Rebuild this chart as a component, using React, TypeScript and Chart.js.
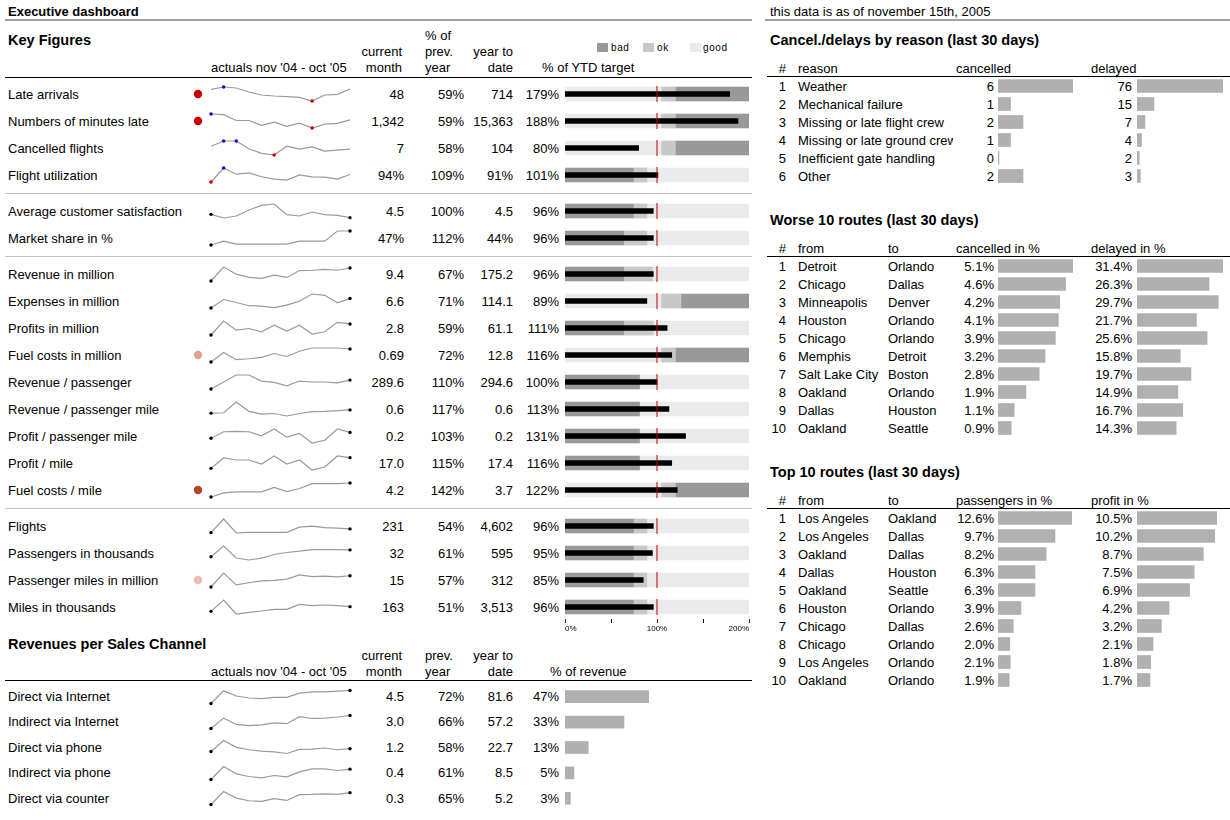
import React, { useEffect, useRef } from "react";
import { Chart, registerables } from "chart.js";
Chart.register(...registerables);

const FONT = '"Liberation Sans", Arial, Helvetica, sans-serif';

// ---------- DATA ----------
const months = ["Nov", "Dec", "Jan", "Feb", "Mar", "Apr", "May", "Jun", "Jul", "Aug", "Sep", "Oct"];

const kfLabels = [
  "Late arrivals", "Numbers of minutes late", "Cancelled flights", "Flight utilization",
  "Average customer satisfaction", "Market share in %",
  "Revenue in million", "Expenses in million", "Profits in million", "Fuel costs in million",
  "Revenue / passenger", "Revenue / passenger mile", "Profit / passenger mile", "Profit / mile", "Fuel costs / mile",
  "Flights", "Passengers in thousands", "Passenger miles in million", "Miles in thousands",
];
const kfGroup = [0, 0, 0, 0, 1, 1, 2, 2, 2, 2, 2, 2, 2, 2, 2, 3, 3, 3, 3];
const kfCurrent = ["48", "1,342", "7", "94%", "4.5", "47%", "9.4", "6.6", "2.8", "0.69", "289.6", "0.6", "0.2", "17.0", "4.2", "231", "32", "15", "163"];
const kfPrevYear = ["59%", "59%", "58%", "109%", "100%", "112%", "67%", "71%", "59%", "72%", "110%", "117%", "103%", "115%", "142%", "54%", "61%", "57%", "51%"];
const kfYtd = ["714", "15,363", "104", "91%", "4.5", "44%", "175.2", "114.1", "61.1", "12.8", "294.6", "0.6", "0.2", "17.4", "3.7", "4,602", "595", "312", "3,513"];
const kfYtdTargetPct = [179, 188, 80, 101, 96, 96, 96, 89, 111, 116, 100, 113, 131, 116, 122, 96, 95, 85, 96];
const kfTarget = 100;
const kfTrend = [
  [52, 59, 56, 44, 35, 32, 30, 28, 17, 35, 37, 53],
  [60, 58, 40, 40, 25, 35, 22, 32, 17, 29, 31, 42],
  [42, 58, 58, 34, 20, 15, 42, 33, 40, 27, 30, 33],
  [14, 57, 38, 42, 30, 23, 20, 36, 30, 29, 23, 37],
  [27, 16, 22, 40, 54, 58, 26, 22, 34, 26, 24, 17],
  [12, 24, 15, 15, 15, 15, 15, 24, 24, 24, 56, 56],
  [7, 50, 28, 18, 15, 25, 18, 39, 40, 43, 40, 47],
  [6, 32, 23, 13, 12, 7, 15, 27, 49, 45, 22, 35],
  [5, 48, 20, 25, 15, 35, 17, 35, 8, 15, 44, 39],
  [3, 32, 10, 13, 17, 29, 20, 36, 46, 46, 46, 43],
  [3, 25, 47, 47, 28, 24, 13, 28, 25, 25, 22, 31],
  [12, 13, 43, 17, 9, 11, 4, 11, 16, 17, 19, 21],
  [16, 35, 36, 35, 23, 43, 19, 30, 2, 10, 43, 33],
  [10, 41, 35, 35, 23, 47, 23, 35, 5, 14, 47, 42],
  [3, 15, 18, 18, 18, 31, 19, 28, 42, 42, 42, 44],
  [2, 42, 1, 3, 3, 3, 3, 18, 21, 17, 15, 13],
  [15, 48, 11, 5, 11, 22, 28, 32, 37, 37, 37, 36],
  [6, 52, 13, 20, 26, 28, 32, 46, 40, 42, 39, 43],
  [11, 45, 3, 8, 12, 17, 17, 32, 28, 30, 28, 25],
];
const kfMinMaxMarks = [true, true, true, true, false, false, false, false, false, false, false, false, false, false, false, false, false, false, false];
const kfStatus: (string | null)[] = [
  "#cc0000", "#cc0000", null, null, null, null, null, null, null, "#e4a090",
  null, null, null, null, "#b5422c", null, null, "#eebcb3", null,
];
const kfBandBad: [number, number][] = [
  [120, 200], [120, 200], [120, 200], [0, 75], [0, 75], [0, 64.5], [0, 64.5], [126, 200], [0, 64.5], [120, 200],
  [0, 81], [0, 81], [0, 81], [0, 81], [120, 200], [0, 75], [0, 75], [0, 75], [0, 75],
];
const kfBandOk: ([number, number] | null)[] = [
  [105, 120], [105, 120], [105, 120], [75, 89], [75, 89], [64.5, 89], [64.5, 95], [105, 126], [64.5, 96], [105, 120],
  null, null, null, null, [105, 120], [75, 89], [75, 89], [75, 89], [75, 89],
];
const bulletAxisMax = 200;

const chLabels = ["Direct via Internet", "Indirect via Internet", "Direct via phone", "Indirect via phone", "Direct via counter"];
const chCurrent = ["4.5", "3.0", "1.2", "0.4", "0.3"];
const chPrevYear = ["72%", "66%", "58%", "61%", "65%"];
const chYtd = ["81.6", "57.2", "22.7", "8.5", "5.2"];
const chShare = [47, 33, 13, 5, 3];
const chTrend = [
  [4, 43, 27, 21, 19, 23, 23, 36, 40, 40, 42, 44],
  [3, 31, 14, 11, 13, 18, 16, 35, 30, 31, 34, 38],
  [10, 42, 22, 15, 11, 9, 4, 16, 17, 20, 15, 18],
  [3, 42, 20, 12, 8, 15, 11, 26, 35, 35, 30, 34],
  [2, 47, 24, 15, 13, 22, 16, 36, 37, 39, 37, 43],
];

const reasons = ["Weather", "Mechanical failure", "Missing or late flight crew", "Missing or late ground crew", "Inefficient gate handling", "Other"];
const reasonCancelled = [6, 1, 2, 1, 0, 2];
const reasonDelayed = [76, 15, 7, 4, 2, 3];

const worseFrom = ["Detroit", "Chicago", "Minneapolis", "Houston", "Chicago", "Memphis", "Salt Lake City", "Oakland", "Dallas", "Oakland"];
const worseTo = ["Orlando", "Dallas", "Denver", "Orlando", "Orlando", "Detroit", "Boston", "Orlando", "Houston", "Seattle"];
const worseCancelled = [5.1, 4.6, 4.2, 4.1, 3.9, 3.2, 2.8, 1.9, 1.1, 0.9];
const worseDelayed = [31.4, 26.3, 29.7, 21.7, 25.6, 15.8, 19.7, 14.9, 16.7, 14.3];

const topFrom = ["Los Angeles", "Los Angeles", "Oakland", "Dallas", "Oakland", "Houston", "Chicago", "Chicago", "Los Angeles", "Oakland"];
const topTo = ["Oakland", "Dallas", "Dallas", "Houston", "Seattle", "Orlando", "Dallas", "Orlando", "Orlando", "Orlando"];
const topPassengers = [12.6, 9.7, 8.2, 6.3, 6.3, 3.9, 2.6, 2.0, 2.1, 1.9];
const topProfit = [10.5, 10.2, 8.7, 7.5, 6.9, 4.2, 3.2, 2.1, 1.8, 1.7];

// ---------- STYLE / LAYOUT ----------
const C_BAD = "#999999";
const C_OK = "#c8c8c8";
const C_GOOD = "#ebebeb";
const C_TARGET = "#c00000";
const C_BAR = "#b0b0b0";
const GROUP_Y = [94, 211, 274, 526];
const ROW_H = 27;

const rowY: number[] = [];
{
  let prev = -1;
  let k = 0;
  kfGroup.forEach((g) => {
    if (g !== prev) { k = 0; prev = g; }
    rowY.push(GROUP_Y[g] + ROW_H * k);
    k++;
  });
}

function baseOptions(extra: any) {
  return {
    animation: false,
    responsive: false,
    maintainAspectRatio: false,
    events: [],
    plugins: { legend: { display: false }, tooltip: { enabled: false } },
    ...extra,
  };
}

function ChartCanvas({ left, top, width, height, config }: any) {
  const ref = useRef<HTMLCanvasElement | null>(null);
  useEffect(() => {
    const chart = new Chart(ref.current as HTMLCanvasElement, config);
    return () => chart.destroy();
  }, []);
  return (
    <canvas
      ref={ref}
      width={width}
      height={height}
      style={{ position: "absolute", left, top, width, height, display: "block" }}
    />
  );
}

function T({ x, y, a = "left", s = 13, b = false, w, children, ls }: any) {
  const lh = 16;
  const style: any = {
    position: "absolute",
    top: y - lh / 2 + 0.5,
    lineHeight: lh + "px",
    fontSize: s,
    fontWeight: b ? "bold" : "normal",
    whiteSpace: "nowrap",
    color: "#000",
  };
  if (ls) style.letterSpacing = ls;
  if (a === "right") style.right = 1230 - x;
  else style.left = x;
  if (w) { style.width = w; style.overflow = "hidden"; }
  return <div style={style}>{children}</div>;
}

function HLine({ x1, x2, y, t = 1, c = "#000" }: any) {
  return <div style={{ position: "absolute", left: x1, top: y - t / 2, width: x2 - x1, height: t, background: c }} />;
}

function Box({ x, y, w, h, c }: any) {
  return <div style={{ position: "absolute", left: x, top: y, width: w, height: h, background: c }} />;
}

function sparkConfig(values: number[], minmax: boolean, areaH: number, canvasH: number) {
  const mx = Math.max(...values);
  const mn = Math.min(...values);
  const colors = values.map((v, i) => {
    if (minmax) return v === mx ? "#1010c8" : v === mn ? "#c80000" : "rgba(0,0,0,0)";
    return i === 0 || i === values.length - 1 ? "#000" : "rgba(0,0,0,0)";
  });
  const radii = values.map((v, i) => {
    if (minmax) return v === mx || v === mn ? 1.8 : 0;
    return i === 0 || i === values.length - 1 ? 1.7 : 0;
  });
  const pad = (canvasH - areaH) / 2;
  return {
    type: "line",
    data: {
      labels: months,
      datasets: [{
        data: values,
        borderColor: "#9a9a9a",
        borderWidth: 1.2,
        tension: 0,
        pointRadius: radii,
        pointBackgroundColor: colors,
        pointBorderWidth: 0,
        clip: false,
      }],
    },
    options: baseOptions({
      layout: { padding: { left: 6, right: 6, top: pad, bottom: pad } },
      scales: { x: { display: false }, y: { display: false, min: mn, max: mx } },
    }),
  };
}

function bulletConfig(i: number) {
  const ds: any[] = [
    { data: [[kfTarget - 0.55, kfTarget + 0.55]], backgroundColor: C_TARGET, barThickness: 16, grouped: false, inflateAmount: 0 },
    { data: [[0, kfYtdTargetPct[i]]], backgroundColor: "#000", barThickness: 5, grouped: false },
  ];
  if (kfBandOk[i]) ds.push({ data: [kfBandOk[i]], backgroundColor: C_OK, barThickness: 14, grouped: false });
  ds.push({ data: [kfBandBad[i]], backgroundColor: C_BAD, barThickness: 14, grouped: false });
  ds.push({ data: [[0, bulletAxisMax]], backgroundColor: C_GOOD, barThickness: 14, grouped: false });
  return {
    type: "bar",
    data: { labels: [kfLabels[i]], datasets: ds },
    options: baseOptions({
      indexAxis: "y",
      scales: { x: { display: false, min: 0, max: bulletAxisMax }, y: { display: false } },
    }),
  };
}

function axisConfig() {
  return {
    type: "scatter",
    data: { datasets: [{ data: [] }] },
    options: baseOptions({
      layout: { padding: { left: 4, right: 4, top: 0, bottom: 0 } },
      scales: {
        x: {
          type: "linear",
          position: "bottom",
          min: 0,
          max: bulletAxisMax,
          border: { display: false },
          grid: {
            drawOnChartArea: false,
            drawTicks: true,
            tickLength: 4,
            lineWidth: 1,
            color: (ctx: any) => (ctx.tick && ctx.tick.value % 100 === 0 ? "#a00000" : "#000"),
          },
          ticks: {
            stepSize: 50,
            autoSkip: false,
            align: "inner",
            maxRotation: 0,
            padding: 1,
            color: "#000",
            font: { size: 8, family: FONT },
            callback: (v: number) => (v % 100 === 0 ? v + "%" : ""),
          },
        },
        y: { display: false },
      },
    }),
  };
}

function dotConfig(color: string) {
  return {
    type: "scatter",
    data: { datasets: [{ data: [{ x: 0, y: 0 }], pointRadius: 4.2, pointBackgroundColor: color, pointBorderWidth: 0, clip: false }] },
    options: baseOptions({
      scales: { x: { display: false, min: -1, max: 1 }, y: { display: false, min: -1, max: 1 } },
    }),
  };
}

function hbarConfig(labels: string[], values: number[], thickness: number) {
  return {
    type: "bar",
    data: {
      labels,
      datasets: [{ data: values, backgroundColor: C_BAR, barThickness: thickness, minBarLength: 1 }],
    },
    options: baseOptions({
      indexAxis: "y",
      scales: { x: { display: false, min: 0, max: Math.max(...values) }, y: { display: false } },
    }),
  };
}

function RightTable({ title, titleY, headY, lineY, firstY, cols, rowsFrom, rowsTo, valA, valB, fmt, widthA, widthB, reason }: any) {
  const n = valA.length;
  const ys = Array.from({ length: n }, (_, i) => firstY + 18 * i);
  return (
    <>
      <T x={770} y={titleY} s={14.5} b>{title}</T>
      <T x={786} y={headY} a="right">#</T>
      <T x={798} y={headY}>{cols[0]}</T>
      {cols.length === 4 ? <T x={888} y={headY}>{cols[1]}</T> : null}
      <T x={956} y={headY}>{cols[cols.length - 2]}</T>
      <T x={1091} y={headY}>{cols[cols.length - 1]}</T>
      <HLine x1={767} x2={1230} y={lineY} />
      {ys.map((y, i) => (
        <React.Fragment key={i}>
          <T x={786} y={y} a="right">{i + 1}</T>
          {reason ? <T x={798} y={y} w={155}>{rowsFrom[i]}</T> : <T x={798} y={y}>{rowsFrom[i]}</T>}
          {rowsTo ? <T x={888} y={y}>{rowsTo[i]}</T> : null}
          <T x={994} y={y} a="right">{fmt(valA[i])}</T>
          <T x={1132} y={y} a="right">{fmt(valB[i])}</T>
        </React.Fragment>
      ))}
      <ChartCanvas left={998} top={firstY - 9.5} width={widthA} height={18 * n} config={hbarConfig(rowsFrom, valA, 13)} />
      <ChartCanvas left={1137} top={firstY - 9.5} width={widthB} height={18 * n} config={hbarConfig(rowsFrom, valB, 13)} />
    </>
  );
}

export default function App() {
  const chY = chLabels.map((_, i) => 696.5 + 25.4 * i);
  return (
    <div style={{ position: "absolute", left: 0, top: 0, width: 1230, height: 820, background: "#fff", fontFamily: FONT, color: "#000", overflow: "hidden" }}>
      <T x={8} y={11.5} b>Executive dashboard</T>
      <T x={770} y={11.5}>this data is as of november 15th, 2005</T>
      <HLine x1={5} x2={752} y={20} t={2} c="#a0a0a0" />
      <HLine x1={765} x2={1230} y={20} t={2} c="#a0a0a0" />

      {/* Key figures header */}
      <T x={8} y={39} s={14.5} b>Key Figures</T>
      <T x={211} y={67.5}>actuals nov '04 - oct '05</T>
      <T x={402} y={51.5} a="right">current</T>
      <T x={402} y={67.5} a="right">month</T>
      <T x={425} y={35.5}>% of</T>
      <T x={425} y={51.5}>prev.</T>
      <T x={425} y={67.5}>year</T>
      <T x={513} y={51.5} a="right">year to</T>
      <T x={513} y={67.5} a="right">date</T>
      <T x={542} y={67.5}>% of YTD target</T>
      <Box x={597} y={42.5} w={11} h={9} c={C_BAD} />
      <T x={611} y={47} s={10} ls="0.6px">bad</T>
      <Box x={643} y={42.5} w={11} h={9} c={C_OK} />
      <T x={657} y={47} s={10} ls="0.6px">ok</T>
      <Box x={690} y={42.5} w={11} h={9} c={C_GOOD} />
      <T x={703} y={47} s={10} ls="0.6px">good</T>
      <HLine x1={5} x2={752} y={77} />
      <HLine x1={5} x2={752} y={193} c="#c4c4c4" />
      <HLine x1={5} x2={752} y={256.5} c="#c4c4c4" />
      <HLine x1={5} x2={752} y={508.5} c="#c4c4c4" />

      {kfLabels.map((lab, i) => {
        const y = rowY[i];
        return (
          <React.Fragment key={lab}>
            <T x={8} y={y}>{lab}</T>
            {kfStatus[i] ? <ChartCanvas left={192} top={y - 6} width={12} height={12} config={dotConfig(kfStatus[i] as string)} /> : null}
            <ChartCanvas left={205} top={y - 11} width={151} height={22} config={sparkConfig(kfTrend[i], kfMinMaxMarks[i], 14, 22)} />
            <T x={404} y={y} a="right">{kfCurrent[i]}</T>
            <T x={464} y={y} a="right">{kfPrevYear[i]}</T>
            <T x={513} y={y} a="right">{kfYtd[i]}</T>
            <T x={559} y={y} a="right">{kfYtdTargetPct[i] + "%"}</T>
            <ChartCanvas left={565} top={y - 9} width={184} height={18} config={bulletConfig(i)} />
          </React.Fragment>
        );
      })}
      <ChartCanvas left={561} top={606} width={192} height={26} config={axisConfig()} />

      {/* Revenues per sales channel */}
      <T x={8} y={643} s={14.5} b>Revenues per Sales Channel</T>
      <T x={211} y={671}>actuals nov '04 - oct '05</T>
      <T x={402} y={655.5} a="right">current</T>
      <T x={402} y={671} a="right">month</T>
      <T x={425} y={655.5}>prev.</T>
      <T x={425} y={671}>year</T>
      <T x={513} y={655.5} a="right">year to</T>
      <T x={513} y={671} a="right">date</T>
      <T x={550} y={671}>% of revenue</T>
      <HLine x1={5} x2={752} y={680} />
      {chLabels.map((lab, i) => {
        const y = chY[i];
        return (
          <React.Fragment key={lab}>
            <T x={8} y={y}>{lab}</T>
            <ChartCanvas left={205} top={y - 11} width={151} height={22} config={sparkConfig(chTrend[i], false, 13, 22)} />
            <T x={404} y={y} a="right">{chCurrent[i]}</T>
            <T x={464} y={y} a="right">{chPrevYear[i]}</T>
            <T x={513} y={y} a="right">{chYtd[i]}</T>
            <T x={559} y={y} a="right">{chShare[i] + "%"}</T>
          </React.Fragment>
        );
      })}
      <ChartCanvas left={565} top={696.5 - 12.7} width={84} height={127} config={hbarConfig(chLabels, chShare, 12)} />

      {/* Right side tables */}
      <RightTable
        title="Cancel./delays by reason (last 30 days)" titleY={39} headY={68} lineY={76.5} firstY={86.5}
        cols={["reason", "cancelled", "delayed"]} rowsFrom={reasons} rowsTo={null}
        valA={reasonCancelled} valB={reasonDelayed} fmt={(v: number) => String(v)} widthA={75} widthB={86} reason
      />
      <RightTable
        title="Worse 10 routes (last 30 days)" titleY={219.5} headY={248} lineY={256.5} firstY={266}
        cols={["from", "to", "cancelled in %", "delayed in %"]} rowsFrom={worseFrom} rowsTo={worseTo}
        valA={worseCancelled} valB={worseDelayed} fmt={(v: number) => v.toFixed(1) + "%"} widthA={75} widthB={86}
      />
      <RightTable
        title="Top 10 routes (last 30 days)" titleY={471.5} headY={500.5} lineY={508.5} firstY={518.3}
        cols={["from", "to", "passengers in %", "profit in %"]} rowsFrom={topFrom} rowsTo={topTo}
        valA={topPassengers} valB={topProfit} fmt={(v: number) => v.toFixed(1) + "%"} widthA={74} widthB={80}
      />
    </div>
  );
}
